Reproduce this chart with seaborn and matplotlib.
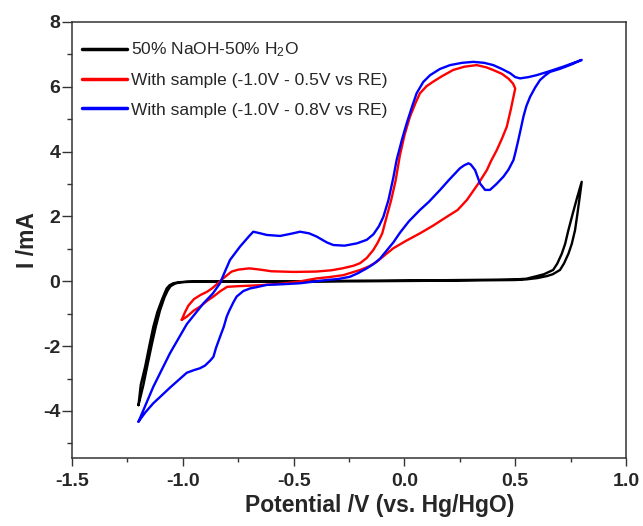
import matplotlib
matplotlib.use("Agg")
import matplotlib.pyplot as plt
from matplotlib.ticker import MultipleLocator
import pandas as pd
import seaborn as sns

# black: electrolyte only
black_x = [-1.2, -1.19, -1.17, -1.15, -1.133, -1.115, -1.095, -1.083, -1.073, -1.06, -1.043, -1.02, -0.982,
           -0.8, -0.5, -0.2, 0.1, 0.4, 0.5, 0.55, 0.597, 0.63, 0.671, 0.69, 0.71, 0.725, 0.74, 0.76, 0.78, 0.8,
           0.79, 0.78, 0.77, 0.755, 0.74, 0.72, 0.702, 0.67, 0.642, 0.6, 0.55, 0.5, 0.2, -0.2, -0.6, -0.95,
           -1.01, -1.035, -1.055, -1.068, -1.083, -1.103, -1.122, -1.14, -1.16, -1.178, -1.2]
black_y = [-3.82, -3.2, -2.63, -1.95, -1.40, -0.95, -0.58, -0.38, -0.22, -0.12, -0.06, -0.03, -0.01,
           -0.01, 0.0, 0.02, 0.03, 0.05, 0.06, 0.08, 0.16, 0.22, 0.35, 0.55, 0.85, 1.15, 1.58, 2.1, 2.6, 3.07,
           2.55, 2.05, 1.58, 1.15, 0.85, 0.55, 0.35, 0.22, 0.16, 0.1, 0.06, 0.04, 0.02, 0.0, -0.01, -0.01,
           -0.03, -0.07, -0.15, -0.28, -0.5, -0.9, -1.4, -1.95, -2.6, -3.2, -3.82]

# red: sample, -1.0 V to 0.5 V
red_x = [-1.005, -0.99, -0.975, -0.95, -0.92, -0.89, -0.865, -0.845, -0.82, -0.8, -0.78, -0.75, -0.7,
         -0.65, -0.6, -0.5, -0.4, -0.33, -0.28, -0.23, -0.2, -0.17, -0.14, -0.12, -0.1, -0.08, -0.06,
         -0.04, -0.02, 0.0, 0.025, 0.05, 0.07, 0.1, 0.13, 0.17, 0.22, 0.27, 0.326, 0.37, 0.4, 0.44,
         0.47, 0.49, 0.5,
         0.492, 0.48, 0.462, 0.44, 0.417, 0.39, 0.372, 0.334, 0.282, 0.24, 0.191, 0.13, 0.07, 0.005,
         -0.05, -0.09, -0.125, -0.16, -0.2, -0.276, -0.34, -0.396, -0.47, -0.55, -0.65, -0.75, -0.8,
         -0.83, -0.862, -0.89, -0.922, -0.95, -0.982, -1.005]
red_y = [-1.19, -0.95, -0.75, -0.55, -0.42, -0.32, -0.2, -0.08, 0.08, 0.19, 0.3, 0.36, 0.40,
         0.36, 0.31, 0.29, 0.30, 0.34, 0.40, 0.48, 0.56, 0.72, 0.97, 1.2, 1.48, 2.0, 2.5,
         3.1, 3.9, 4.5, 5.08, 5.5, 5.8, 6.02, 6.16, 6.33, 6.52, 6.62, 6.67, 6.6, 6.52, 6.4,
         6.25, 6.1, 5.95,
         5.69, 5.3, 4.77, 4.4, 4.05, 3.7, 3.43, 3.02, 2.51, 2.2, 1.99, 1.72, 1.48, 1.24,
         1.02, 0.8, 0.6, 0.46, 0.35, 0.19, 0.13, 0.09, 0.0, -0.07, -0.12, -0.15, -0.17,
         -0.3, -0.47, -0.6, -0.78, -0.9, -1.09, -1.19]

# blue: sample, -1.0 V to 0.8 V
blue_x = [-1.2, -1.133, -1.058, -0.982, -0.907, -0.865, -0.832, -0.81, -0.787, -0.742, -0.70, -0.682,
          -0.65, -0.621, -0.561, -0.51, -0.471, -0.43, -0.396, -0.35, -0.321, -0.27, -0.215, -0.17,
          -0.14, -0.115, -0.095, -0.072, -0.05, -0.035, -0.01, 0.01, 0.035, 0.055, 0.085, 0.116, 0.16,
          0.206, 0.26, 0.311, 0.36, 0.401, 0.44, 0.477, 0.5, 0.522, 0.56, 0.597, 0.635, 0.672, 0.72,
          0.76, 0.8,
          0.75, 0.7, 0.657, 0.635, 0.612, 0.59, 0.567, 0.55, 0.537, 0.525, 0.514, 0.5, 0.492, 0.47,
          0.447, 0.415, 0.386, 0.364, 0.341, 0.319, 0.3, 0.289, 0.27, 0.251, 0.2, 0.161, 0.11, 0.07,
          0.02, -0.02, -0.05, -0.08, -0.11, -0.14, -0.17, -0.21, -0.246, -0.3, -0.351, -0.41, -0.471,
          -0.55, -0.621, -0.667, -0.697, -0.727, -0.757, -0.772, -0.79, -0.802, -0.815, -0.832, -0.85,
          -0.862, -0.877, -0.9, -0.922, -0.95, -0.982, -1.02, -1.058, -1.1, -1.133, -1.17, -1.2]
blue_y = [-4.33, -3.25, -2.22, -1.32, -0.68, -0.38, -0.06, 0.3, 0.66, 1.07, 1.4, 1.53,
          1.48, 1.43, 1.40, 1.47, 1.53, 1.48, 1.38, 1.2, 1.12, 1.1, 1.17, 1.28,
          1.45, 1.7, 1.99, 2.51, 3.2, 3.75, 4.4, 4.87, 5.4, 5.8, 6.15, 6.36, 6.55,
          6.67, 6.74, 6.77, 6.74, 6.67, 6.55, 6.42, 6.3, 6.26, 6.3, 6.36, 6.44, 6.52, 6.63,
          6.73, 6.83,
          6.68, 6.55, 6.46, 6.35, 6.21, 5.98, 5.69, 5.4, 5.08, 4.7, 4.36, 3.95, 3.74, 3.45,
          3.23, 3.0, 2.82, 2.82, 3.02, 3.43, 3.6, 3.64, 3.58, 3.49, 3.12, 2.82, 2.45, 2.2,
          1.85, 1.5, 1.2, 0.95, 0.7, 0.53, 0.40, 0.25, 0.14, 0.07, 0.04, -0.01, -0.06,
          -0.09, -0.11, -0.18, -0.22, -0.3, -0.47, -0.65, -0.9, -1.09, -1.4, -1.71, -2.05,
          -2.33, -2.45, -2.6, -2.68, -2.74, -2.82, -3.05, -3.28, -3.55, -3.76, -4.05, -4.33]

labels = ["50% NaOH-50% H$_2$O",
          "With sample (-1.0V - 0.5V vs RE)",
          "With sample (-1.0V - 0.8V vs RE)"]
colors = ["black", "#ff0000", "#0000ff"]
x_ticks = [-1.5, -1.0, -0.5, 0.0, 0.5, 1.0]
y_ticks = [-4, -2, 0, 2, 4, 6, 8]

sns.set_theme(style="ticks")
plt.rcParams["font.family"] = ["Liberation Sans", "DejaVu Sans"]
plt.rcParams["mathtext.default"] = "regular"

fig = plt.figure(figsize=(6.43, 5.26), dpi=100)
ax = fig.add_axes([0.112, 0.1293, 0.8616, 0.8289])

for xs, ys, lab, col in zip([black_x, red_x, blue_x], [black_y, red_y, blue_y], labels, colors):
    df = pd.DataFrame({"x": xs, "y": ys})
    sns.lineplot(data=df, x="x", y="y", sort=False, estimator=None, color=col,
                 linewidth=1.7, label=lab, ax=ax)

ax.set_xlim(-1.5, 1.0)
ax.set_ylim(-5.45, 8)
ax.set_xticks(x_ticks)
ax.set_yticks(y_ticks)
ax.set_xticklabels([f"{v:.1f}" for v in x_ticks])
ax.set_yticklabels([str(v) for v in y_ticks])
ax.xaxis.set_minor_locator(MultipleLocator(0.25))
ax.yaxis.set_minor_locator(MultipleLocator(1))
ax.tick_params(axis="x", which="major", direction="out", length=5.5, width=1, pad=5,
               labelsize=14, color="#333333")
ax.tick_params(axis="y", which="major", direction="out", length=7, width=1, pad=1.5,
               labelsize=14, color="#333333")
ax.tick_params(axis="x", which="minor", direction="out", length=3, width=1, color="#333333")
ax.tick_params(axis="y", which="minor", direction="out", length=3.6, width=1, color="#333333")
for lbl in ax.get_xticklabels() + ax.get_yticklabels():
    lbl.set_fontweight("bold")
for sp in ax.spines.values():
    sp.set_visible(True)
    sp.set_linewidth(1.1)
    sp.set_color("#333333")

ax.set_xlabel("Potential /V (vs. Hg/HgO)", fontsize=16.5, fontweight="bold", va="center")
ax.xaxis.set_label_coords(0.556, -0.108)
ax.set_ylabel("I /mA", fontsize=16.5, fontweight="bold", va="center")
ax.yaxis.set_label_coords(-0.08, 0.5)

leg = ax.legend(loc="upper left", bbox_to_anchor=(0.0175, 0.957), frameon=False, fontsize=12.5,
                handlelength=2.6, handletextpad=0.25, labelspacing=0.8, borderpad=0, borderaxespad=0)
for line in leg.get_lines():
    line.set_linewidth(2.5)

fig.savefig("out.png", dpi=100)
